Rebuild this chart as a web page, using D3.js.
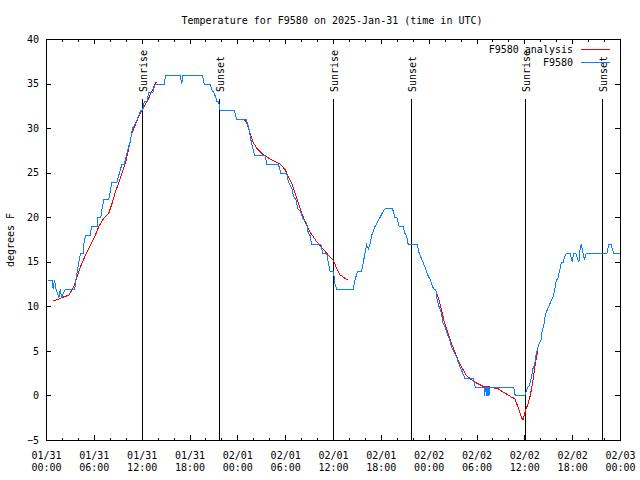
<!DOCTYPE html>
<html>
<head>
<meta charset="utf-8">
<script src="https://cdn.jsdelivr.net/npm/d3@7"></script>
<style>
  html, body { margin: 0; padding: 0; background: #fff; }
  svg { display: block; }
  text { font-family: "DejaVu Sans Mono", "Liberation Mono", monospace; font-size: 10px; fill: #000; }
</style>
</head>
<body>
<svg id="chart" width="640" height="480"></svg>
<script>
// ---------------- DATA ----------------
// Hours since 2025-01-31 00:00 UTC
const titleText = "Temperature for F9580 on 2025-Jan-31 (time in UTC)";
const yLabelText = "degrees F";
const seriesNames = ["F9580 analysis", "F9580"];

const yTicks = [-5, 0, 5, 10, 15, 20, 25, 30, 35, 40];
const xMajorHours = [0, 6, 12, 18, 24, 30, 36, 42, 48, 54, 60, 66, 72];
const xMinorHours = [2, 4, 8, 10, 14, 16, 20, 22, 26, 28, 32, 34, 38, 40, 44, 46, 50, 52, 56, 58, 62, 64, 68, 70];

const sunHours = [12.02, 21.68, 36.03, 45.81, 60.06, 69.72];
const sunLabels = ["Sunrise", "Sunset", "Sunrise", "Sunset", "Sunrise", "Sunset"];

// Observations (F9580)
const obsHours = [0.2,0.7,0.84,0.99,1.2,1.54,1.75,1.88,2.1,2.38,3.55,3.67,4.05,4.26,4.6,4.68,4.88,5.51,5.63,6.34,6.43,6.8,6.97,7.18,7.81,8.01,8.22,8.85,9.14,9.47,9.77,10.02,10.31,10.5,10.77,11.1,11.35,11.6,11.77,12.05,12.27,12.6,12.81,13.31,13.65,14.78,14.94,16.78,16.95,17.12,19.57,19.78,20.53,20.74,21.0,21.24,21.37,21.6,21.79,23.58,23.87,25.04,25.21,25.46,25.63,25.88,26.09,27.42,27.63,29.09,29.38,30.13,30.34,30.6,30.85,30.97,31.3,31.51,31.89,32.1,32.4,32.64,32.81,33.06,33.27,34.43,34.64,35.14,35.35,35.56,35.98,36.19,36.4,38.48,38.69,39.02,39.53,39.74,39.95,40.15,40.36,40.57,40.78,41.2,41.5,41.82,42.1,42.45,43.41,43.7,43.95,44.24,44.75,44.96,45.15,45.37,46.5,46.75,47.0,47.25,47.45,47.67,47.9,48.17,48.42,48.6,48.84,49.0,49.25,49.55,49.76,50.0,50.26,50.59,50.8,51.1,51.43,51.64,52.05,52.47,53.51,53.8,54.9,54.97,55.05,55.2,55.26,55.35,55.43,55.5,55.58,58.6,58.8,60.0,60.19,60.4,60.6,60.82,61.02,61.23,61.44,61.65,61.86,62.05,62.19,62.36,62.48,62.69,63.03,63.32,63.53,63.74,63.95,64.15,64.36,64.57,64.8,64.99,65.2,65.7,65.95,66.12,66.37,66.6,66.78,66.95,67.07,67.3,67.49,67.7,70.29,70.54,70.83,71.13,71.95];
const obsTemps = [13,13,12,13,12,11,12,11,11.5,12,12,13,15,16,16,17,18,18,19,19,20,20,21,22,22,23,24,24,25,26,26,27,28,28.5,30,30.5,31,31.5,32,32,33,33,34,34,35,35,36,36,35,36,36,35,35,34.4,34,33.5,33,33,32,32,31,31,30.6,29.7,28.75,27.8,27,27,26,26,25,25,24,23.6,23.1,22.4,22,21,20.7,20,19.7,19.4,18.4,18,17,17,16,16,15,14,14,12.6,12,12,13,14,14,15,16,17,16.5,17,18,19,19.5,20,20.5,21,21,20,20,19,19,18.25,18,17,17,16,15.5,15,14.5,14,13.4,13,12.25,12,11.9,10.75,10,9.25,8.1,7.7,7,6.25,5.5,4.94,4.4,3.8,2.88,2,2,1,1,0,1,1,0,1,1,0,1,1,0,0,0.56,1,1.2,2.13,3.06,3.6,4.75,5.5,6,6.3,7.4,7.75,8.7,9.4,10.07,10.75,11.1,11.9,13,13.2,14.05,14.9,15,15.6,16,16,15,16,16,15.5,15,16.6,17,16,15.3,16,16,17,17,16,16];

// Analysis (null breaks the line into segments)
const anaHours = [0.79,1.34,1.96,2.8,3.42,3.84,4.26,4.88,5.51,6.14,6.55,7.18,7.81,8.22,8.64,9.06,9.47,9.89,10.19,10.44,10.73,11.15,11.56,11.98,12.4,12.81,13.23,13.65,13.77,
  null,
  24.83,25.13,25.54,25.96,26.38,26.8,27.21,27.84,28.68,29.3,29.93,30.34,30.76,31.18,31.6,32.01,32.43,33.06,33.89,34.73,35.35,35.98,36.4,36.81,37.77,
  null,
  48.8,49.13,49.55,49.96,50.38,50.8,51.21,51.63,52.05,52.68,53.3,53.93,54.77,55.6,56.64,57.48,58.31,58.73,59.15,59.56,59.77,60.1,60.4,60.69,61.02,61.31,61.65];
const anaTemps = [10.64,10.8,11.05,11.3,12.25,13.4,14.5,15.8,16.9,18.06,19,19.94,20.5,21.6,22.9,23.9,25,26.1,27.25,28.4,29.5,30.4,31.4,32.1,32.7,33.4,34.2,35.05,35.2,
  null,
  31,30.6,29.5,28.4,27.8,27.4,27.06,26.7,26.3,26.05,25.4,24.6,23.9,22.75,21.6,20.5,19.56,18.4,17.3,16.45,15.8,15.25,14.3,13.6,13,
  null,
  11.9,11.1,9.6,8.1,7,5.9,4.94,4,3.25,2.3,1.83,1.45,1.08,1,0.81,0.33,-0.12,-0.3,-1.25,-2.4,-2.7,-1.6,-0.87,0.06,1.75,3.6,5.1];

// ---------------- CHART ----------------
const colors = { analysis: "#ff0000", obs: "#0a80ff" };
const t0 = Date.UTC(2025, 0, 31, 0, 0, 0);
const toDate = h => new Date(t0 + h * 3600e3);

const svg = d3.select("#chart");
const x = d3.scaleUtc().domain([toDate(0), toDate(72)]).range([46, 620]);
const y = d3.scaleLinear().domain([-5, 40]).range([440, 39]);
const X = h => x(toDate(h)) + 0.5;
const Y = v => y(v) + 0.5;

// frame
svg.append("rect")
  .attr("x", 46.5).attr("y", 39.5)
  .attr("width", 574).attr("height", 401)
  .attr("fill", "none").attr("stroke", "#000").attr("stroke-width", 1)
  .attr("shape-rendering", "crispEdges");

function styleAxis(g) {
  g.select(".domain").remove();
  g.selectAll("line").attr("stroke", "#000").attr("shape-rendering", "crispEdges");
  g.selectAll("text").style("font-family", '"DejaVu Sans Mono", monospace').style("font-size", "10px").attr("fill", "#000");
}

// x ticks (bottom/top, major and minor)
svg.append("g").attr("transform", "translate(0,440)")
  .call(d3.axisBottom(x).tickValues(xMajorHours.map(toDate)).tickSizeInner(-5).tickSizeOuter(0).tickFormat(""))
  .call(styleAxis);
svg.append("g").attr("transform", "translate(0,440)")
  .call(d3.axisBottom(x).tickValues(xMinorHours.map(toDate)).tickSizeInner(-2.5).tickSizeOuter(0).tickFormat(""))
  .call(styleAxis);
svg.append("g").attr("transform", "translate(0,39)")
  .call(d3.axisTop(x).tickValues(xMajorHours.map(toDate)).tickSizeInner(-5).tickSizeOuter(0).tickFormat(""))
  .call(styleAxis);
svg.append("g").attr("transform", "translate(0,39)")
  .call(d3.axisTop(x).tickValues(xMinorHours.map(toDate)).tickSizeInner(-2.5).tickSizeOuter(0).tickFormat(""))
  .call(styleAxis);

// x tick labels (two lines)
const fDay = d3.utcFormat("%m/%d"), fTime = d3.utcFormat("%H:%M");
const xl = svg.append("g").selectAll("text").data(xMajorHours).join("text")
  .attr("text-anchor", "middle")
  .attr("x", h => X(h));
xl.append("tspan").attr("x", h => X(h)).attr("y", 455.5).attr("dominant-baseline", "central").text(h => fDay(toDate(h)));
xl.append("tspan").attr("x", h => X(h)).attr("y", 467).attr("dominant-baseline", "central").text(h => fTime(toDate(h)));

// y axes
svg.append("g").attr("transform", "translate(46,0)")
  .call(d3.axisLeft(y).tickValues(yTicks).tickSizeInner(-5).tickSizeOuter(0).tickPadding(7).tickFormat(d3.format("d")))
  .call(styleAxis);
svg.append("g").attr("transform", "translate(620,0)")
  .call(d3.axisRight(y).tickValues(yTicks).tickSizeInner(-5).tickSizeOuter(0).tickFormat(""))
  .call(styleAxis);

// sunrise / sunset lines
const sun = svg.append("g");
sunHours.forEach((h, i) => {
  const lx = Math.round(X(h) - 0.5) + 0.5;
  sun.append("line")
    .attr("x1", lx).attr("x2", lx).attr("y1", 99).attr("y2", 440)
    .attr("stroke", "#000").attr("stroke-width", 1).attr("shape-rendering", "crispEdges");
  sun.append("text")
    .attr("transform", `translate(${lx + 4.5},92) rotate(-90)`)
    .attr("text-anchor", "start")
    .text(sunLabels[i]);
});

// data lines
const anaData = anaHours.map((h, i) => [h, anaTemps[i]]);
const obsData = obsHours.map((h, i) => [h, obsTemps[i]]);
const line = d3.line().defined(d => d[0] != null && d[1] != null).x(d => X(d[0])).y(d => Y(d[1]));

svg.append("path").datum(anaData).attr("d", line)
  .attr("fill", "none").attr("stroke", colors.analysis).attr("stroke-width", 1)
  .attr("shape-rendering", "crispEdges");
svg.append("path").datum(obsData).attr("d", line)
  .attr("fill", "none").attr("stroke", colors.obs).attr("stroke-width", 1)
  .attr("shape-rendering", "crispEdges");

// title
svg.append("text").attr("x", 332).attr("y", 20.5)
  .attr("text-anchor", "middle").attr("dominant-baseline", "central").text(titleText);

// y label
svg.append("text").attr("transform", "translate(10,240) rotate(-90)")
  .attr("text-anchor", "middle").attr("dominant-baseline", "central").text(yLabelText);

// legend
const leg = svg.append("g");
[[seriesNames[0], colors.analysis, 49.5], [seriesNames[1], colors.obs, 62.5]].forEach(([name, col, ly]) => {
  leg.append("text").attr("x", 573).attr("y", ly).attr("text-anchor", "end").attr("dominant-baseline", "central").text(name);
  leg.append("line").attr("x1", 581).attr("x2", 610).attr("y1", ly).attr("y2", ly)
    .attr("stroke", col).attr("stroke-width", 1).attr("shape-rendering", "crispEdges");
});
</script>
</body>
</html>
